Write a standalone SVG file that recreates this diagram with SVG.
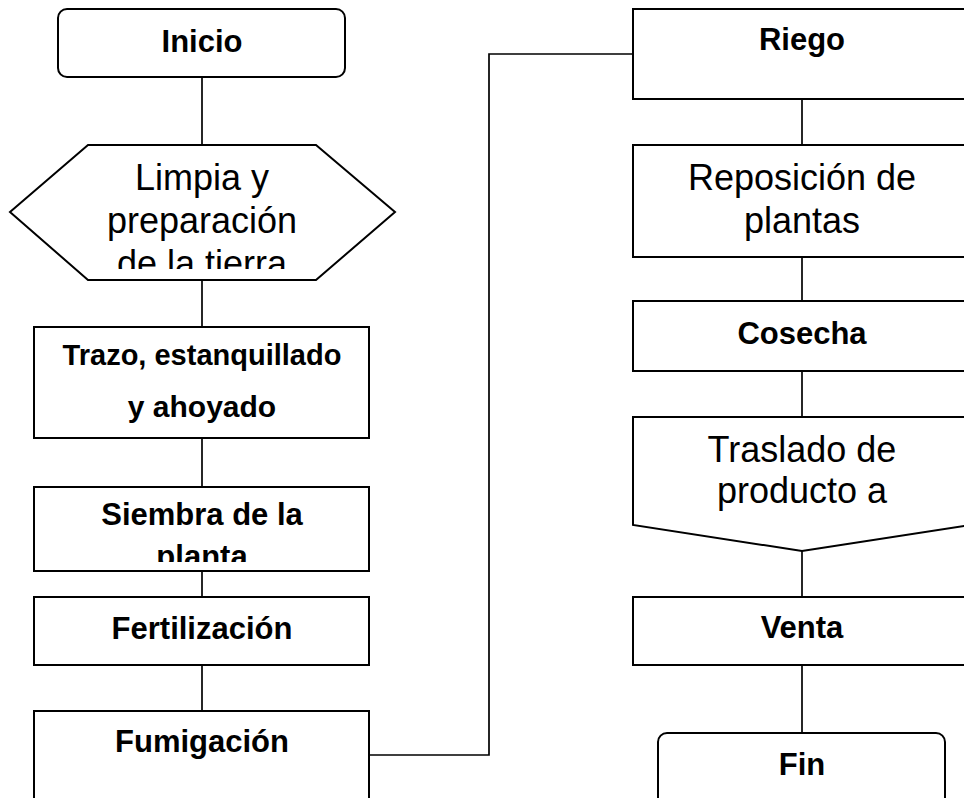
<svg xmlns="http://www.w3.org/2000/svg" width="964" height="798" viewBox="0 0 964 798">
<style>
.shape{fill:#fff;stroke:#000;stroke-width:2}
.conn{fill:none;stroke:#000;stroke-width:1.7}
.b{font-family:"Liberation Sans",Arial,sans-serif;font-weight:bold;font-size:31px;fill:#000;text-anchor:middle}
.r{font-family:"Liberation Sans",Arial,sans-serif;font-size:36px;fill:#000;text-anchor:middle}
</style>
<defs>
<clipPath id="clipHex"><rect x="0" y="140" width="420" height="129"/></clipPath>
<clipPath id="clipSiembra"><rect x="30" y="485" width="345" height="77"/></clipPath>
</defs>
<rect width="964" height="798" fill="#fff"/>
<g id="connectors">
<line class="conn" x1="202" y1="77" x2="202" y2="145"/>
<line class="conn" x1="202" y1="280" x2="202" y2="327"/>
<line class="conn" x1="202" y1="438" x2="202" y2="487"/>
<line class="conn" x1="202" y1="571" x2="202" y2="597"/>
<line class="conn" x1="202" y1="665" x2="202" y2="711"/>
<polyline class="conn" points="369,755 489,755 489,54 633,54"/>
<line class="conn" x1="802" y1="99" x2="802" y2="145"/>
<line class="conn" x1="802" y1="257" x2="802" y2="301"/>
<line class="conn" x1="802" y1="371" x2="802" y2="417"/>
<line class="conn" x1="802" y1="551" x2="802" y2="597"/>
<line class="conn" x1="802" y1="665" x2="802" y2="733"/>
</g>
<g id="inicio">
<rect class="shape" x="58" y="9" width="287" height="68" rx="9"/>
<text class="b" x="202" y="52">Inicio</text>
</g>
<g id="limpia">
<polygon class="shape" points="10,212 88,145 316,145 395,212 316,280 88,280"/>
<g clip-path="url(#clipHex)">
<text class="r" x="202" y="190">Limpia y</text>
<text class="r" x="202" y="233">preparación</text>
<text class="r" x="202" y="276">de la tierra</text>
</g>
</g>
<g id="trazo">
<rect class="shape" x="34" y="327" width="335" height="111"/>
<text class="b" x="202" y="365" style="font-size:29px">Trazo, estanquillado</text>
<text class="b" x="202" y="417" style="font-size:30px">y ahoyado</text>
</g>
<g id="siembra">
<rect class="shape" x="34" y="487" width="335" height="84"/>
<g clip-path="url(#clipSiembra)">
<text class="b" x="202" y="525">Siembra de la</text>
<text class="b" x="202" y="567">planta</text>
</g>
</g>
<g id="fertilizacion">
<rect class="shape" x="34" y="597" width="335" height="68"/>
<text class="b" x="202" y="639">Fertilización</text>
</g>
<g id="fumigacion">
<rect class="shape" x="34" y="711" width="335" height="100"/>
<text class="b" x="202" y="752">Fumigación</text>
</g>
<g id="riego">
<rect class="shape" x="633" y="9" width="338" height="90"/>
<text class="b" x="802" y="50">Riego</text>
</g>
<g id="reposicion">
<rect class="shape" x="633" y="145" width="338" height="112"/>
<text class="r" x="802" y="190">Reposición de</text>
<text class="r" x="802" y="233">plantas</text>
</g>
<g id="cosecha">
<rect class="shape" x="633" y="301" width="338" height="70"/>
<text class="b" x="802" y="344">Cosecha</text>
</g>
<g id="traslado">
<polygon class="shape" points="633,417 971,417 971,525 802,551 633,525"/>
<text class="r" x="802" y="462">Traslado de</text>
<text class="r" x="802" y="503">producto a</text>
</g>
<g id="venta">
<rect class="shape" x="633" y="597" width="338" height="68"/>
<text class="b" x="802" y="638">Venta</text>
</g>
<g id="fin">
<rect class="shape" x="658" y="733" width="287" height="80" rx="9"/>
<text class="b" x="802" y="775">Fin</text>
</g>
</svg>
